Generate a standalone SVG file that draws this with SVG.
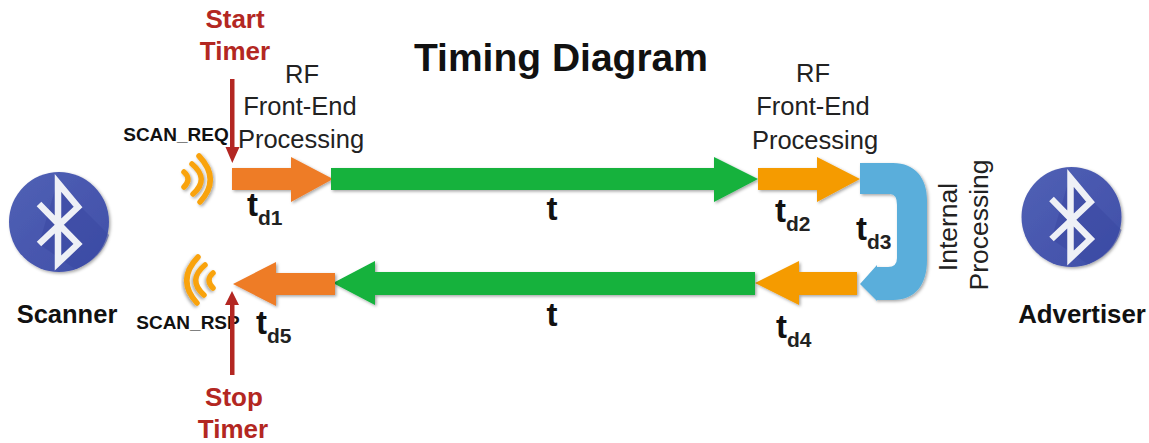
<svg xmlns="http://www.w3.org/2000/svg" width="1149" height="443" viewBox="0 0 1149 443">
<defs>
<filter id="sh" x="-20%" y="-20%" width="140%" height="140%"><feDropShadow dx="1.5" dy="1.5" stdDeviation="1.5" flood-color="#000" flood-opacity="0.35"/></filter>
<linearGradient id="bt" x1="0" y1="0" x2="1" y2="1"><stop offset="0" stop-color="#5161b5"/><stop offset="1" stop-color="#3f4ea8"/></linearGradient>
<g id="logo">
<circle r="50" fill="url(#bt)" filter="url(#sh)"/>
<path d="M-2 -39 L50 13 A50 50 0 0 1 16 47 L-20 22 Z" fill="#3a49a3" opacity="0.55"/>
<path d="M-20 -18 L19 22 L-1 41 L-1 -39 L19 -15 L-20 22" fill="none" stroke="#eef0f6" stroke-width="6.500" stroke-linejoin="miter"/>
</g>
<g id="waves" fill="none" stroke="#f9a30f" stroke-width="5.500" stroke-linecap="round" filter="url(#sh)">
<path d="M1 -7 Q9 0 1 8"/>
<path d="M9 -15 Q27 0 10 15"/>
<path d="M16 -23 Q38 0 17 23"/>
</g>
</defs>
<style>
text{font-family:"Liberation Sans",Arial,sans-serif;fill:#111}
.b{font-weight:700}
.lbl{font-size:25.500px;fill:#222}
.rot{font-size:26.500px;fill:#222}
.red{font-size:26px;font-weight:700;fill:#b32722;text-anchor:middle}
.td{font-size:33px;font-weight:700}
.sub{font-size:21px;font-weight:700;fill:#222}
.tag{font-size:19px;font-weight:700}
.m{text-anchor:middle}
.sh{filter:url(#sh)}
</style>
<rect width="1149" height="443" fill="#fff"/>
<g id="scanner">
<use href="#logo" x="59" y="222"/>
<text x="67" y="323" class="b m" font-size="25.500">Scanner</text>
</g>
<g id="advertiser">
<use href="#logo" x="1071.500" y="217"/>
<text x="1082" y="323" class="b m" font-size="25.800">Advertiser</text>
</g>
<g id="scan-req">
<use href="#waves" x="183" y="179"/>
<text x="176" y="141" class="tag m">SCAN_REQ</text>
</g>
<g id="scan-rsp">
<use href="#waves" transform="translate(214,280) scale(-1,1)"/>
<text x="188" y="329" class="tag m">SCAN_RSP</text>
</g>
<g id="connectors">
<path class="sh" d="M232 168H291V157L333 179L291 202V190H232Z" fill="#ee7b27"/>
<path class="sh" d="M331 168H714V157L758 179L714 202V190H331Z" fill="#12b23e"/>
<path class="sh" d="M758 168H817V157L860 179L817 202V190H758Z" fill="#f59b05"/>
<path class="sh" d="M860 163H893C915 163 927 178 927 200V260C927 285 915 300 893 300H877V301L860 284L877 265V267H888Q897 267 897 258V205Q897 194 890 194H860Z" fill="#5aaedb"/>
<path class="sh" d="M857 272H799V261L755 283L799 305V295H857Z" fill="#f59b05"/>
<path class="sh" d="M755 272H375V261L333 283L375 305V295H755Z" fill="#12b23e"/>
<path class="sh" d="M335 273H276V262L233 284L276 306V295H335Z" fill="#ee7b27"/>
<path d="M230 79H234.500V147H239.500L232.300 163L225.500 147H230Z" fill="#b32722"/>
<path d="M232 291L239 305H234.500V375H230V305H225Z" fill="#b32722"/>
</g>
<g id="title"><text x="561" y="71" class="b m" font-size="39">Timing Diagram</text></g>
<g id="start-timer"><text x="235" y="28" class="red">Start</text><text x="235" y="60" class="red">Timer</text></g>
<g id="stop-timer"><text x="234" y="406" class="red">Stop</text><text x="233" y="438" class="red">Timer</text></g>
<g id="rf1"><text x="302" y="83" class="lbl m">RF</text><text x="300" y="115" class="lbl m">Front-End</text><text x="301" y="148" class="lbl m">Processing</text></g>
<g id="rf2"><text x="813" y="82" class="lbl m">RF</text><text x="813" y="115" class="lbl m">Front-End</text><text x="815" y="149" class="lbl m">Processing</text></g>
<g id="internal"><text transform="translate(957,227) rotate(-90)" class="rot m">Internal</text><text transform="translate(988,225) rotate(-90)" class="rot m">Processing</text></g>
<g id="td1"><text x="247" y="216" class="td">t</text><text x="258" y="225" class="sub">d1</text></g>
<g id="td2"><text x="775" y="222" class="td">t</text><text x="786" y="231" class="sub">d2</text></g>
<g id="td3"><text x="856" y="240" class="td">t</text><text x="867" y="249" class="sub">d3</text></g>
<g id="td4"><text x="776" y="338" class="td">t</text><text x="787" y="347" class="sub">d4</text></g>
<g id="td5"><text x="256" y="334" class="td">t</text><text x="267" y="343" class="sub">d5</text></g>
<g id="t1"><text x="552" y="220" class="td m">t</text></g>
<g id="t2"><text x="552" y="326" class="td m">t</text></g>
</svg>
